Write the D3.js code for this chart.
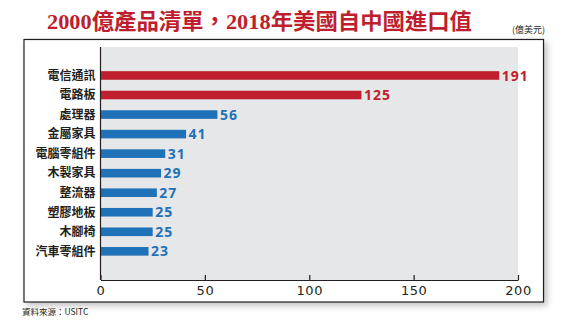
<!DOCTYPE html>
<html>
<head>
<meta charset="utf-8">
<script src="https://cdn.jsdelivr.net/npm/d3@7"></script>
<style>
  html, body { margin: 0; padding: 0; background: #ffffff; }
  svg { display: block; }
</style>
</head>
<body>
<svg id="chart" width="573" height="327"></svg>
<script>
const categories = ["電信通訊", "電路板", "處理器", "金屬家具", "電腦零組件", "木製家具", "整流器", "塑膠地板", "木腳椅", "汽車零組件"];
const values = [191, 125, 56, 41, 31, 29, 27, 25, 25, 23];
const highlighted = [true, true, false, false, false, false, false, false, false, false];
const tickValues = [0, 50, 100, 150, 200];
const titleText = "2000億產品清單，2018年美國自中國進口值";
const unitText = "(億美元)";
const sourceText = "資料來源：USITC";

const RED = "#be1e2d", BLUE = "#1f72b8";

const svg = d3.select("#chart");
const defs = svg.append("defs");
const f = defs.append("filter").attr("id", "shadow").attr("x", "-5%").attr("y", "-5%").attr("width", "115%").attr("height", "120%");
f.append("feDropShadow").attr("dx", 3).attr("dy", 3).attr("stdDeviation", 3).attr("flood-color", "#000").attr("flood-opacity", 0.25);

// outer box
svg.append("rect").attr("x", 24).attr("y", 39.5).attr("width", 519.5).attr("height", 262.5)
  .attr("fill", "#fff").attr("stroke", "#231f20").attr("stroke-width", 1.2).attr("filter", "url(#shadow)");

// title
svg.append("text").attr("x", 47).attr("y", 29)
  .attr("font-family", "'Liberation Serif', 'Noto Sans CJK TC', serif")
  .attr("font-weight", "bold").attr("font-size", 22)
  .attr("fill", RED)
  .attr("textLength", 425).attr("lengthAdjust", "spacingAndGlyphs")
  .text(titleText);

svg.append("text").attr("x", 545).attr("y", 33).attr("text-anchor", "end")
  .attr("font-family", "'Noto Sans CJK TC', sans-serif").attr("font-size", 9).attr("fill", "#231f20")
  .text(unitText);

const x = d3.scaleLinear().domain([0, 200]).range([100.5, 518]);
const y = d3.scaleBand().domain(categories).range([65.7, 261.1]).paddingInner(0.56).paddingOuter(0.28);

// plot background
svg.append("rect").attr("x", x(0)).attr("y", 47).attr("width", x(200) - x(0)).attr("height", 280 - 47).attr("fill", "#e6e7e8");

// bars
svg.append("g").selectAll("rect").data(categories).join("rect")
  .attr("x", x(0)).attr("y", d => y(d))
  .attr("width", (d, i) => x(values[i]) - x(0))
  .attr("height", y.bandwidth())
  .attr("fill", (d, i) => highlighted[i] ? RED : BLUE);

// value labels
svg.append("g").selectAll("text").data(categories).join("text")
  .attr("x", (d, i) => x(values[i]) + 2.5)
  .attr("y", d => y(d) + y.bandwidth() / 2)
  .attr("dy", "0.36em")
  .attr("font-family", "'Open Sans', sans-serif").attr("font-weight", "bold").attr("font-size", 14)
  .attr("letter-spacing", 1)
  .attr("fill", (d, i) => highlighted[i] ? RED : BLUE)
  .text((d, i) => values[i]);

// category labels
svg.append("g").selectAll("text").data(categories).join("text")
  .attr("x", 95.5)
  .attr("y", d => y(d) + y.bandwidth() / 2)
  .attr("dy", "0.36em")
  .attr("text-anchor", "end")
  .attr("font-family", "'Noto Sans CJK TC', sans-serif").attr("font-weight", "bold").attr("font-size", 12)
  .attr("fill", "#231f20")
  .text(d => d);

// left axis line
svg.append("line").attr("x1", x(0)).attr("x2", x(0)).attr("y1", 47).attr("y2", 280)
  .attr("stroke", "#231f20").attr("stroke-width", 1.2);

// bottom axis
const xAxis = d3.axisBottom(x).tickValues(tickValues).tickSizeInner(-5).tickSizeOuter(0).tickPadding(6);
const ax = svg.append("g").attr("transform", "translate(0,280)").call(xAxis);
ax.select(".domain").attr("stroke", "#231f20").attr("stroke-width", 1.2);
ax.selectAll(".tick line").attr("stroke", "#231f20").attr("stroke-width", 1.2);
ax.selectAll(".tick text").attr("font-family", "'DejaVu Sans', sans-serif").attr("font-size", 13)
  .attr("letter-spacing", 0.5)
  .attr("fill", "#231f20").attr("dy", "0.68em");

// source
svg.append("text").attr("x", 22).attr("y", 315)
  .attr("font-family", "'Noto Sans CJK TC', sans-serif").attr("font-size", 8.5).attr("fill", "#231f20")
  .text(sourceText);
</script>
</body>
</html>
